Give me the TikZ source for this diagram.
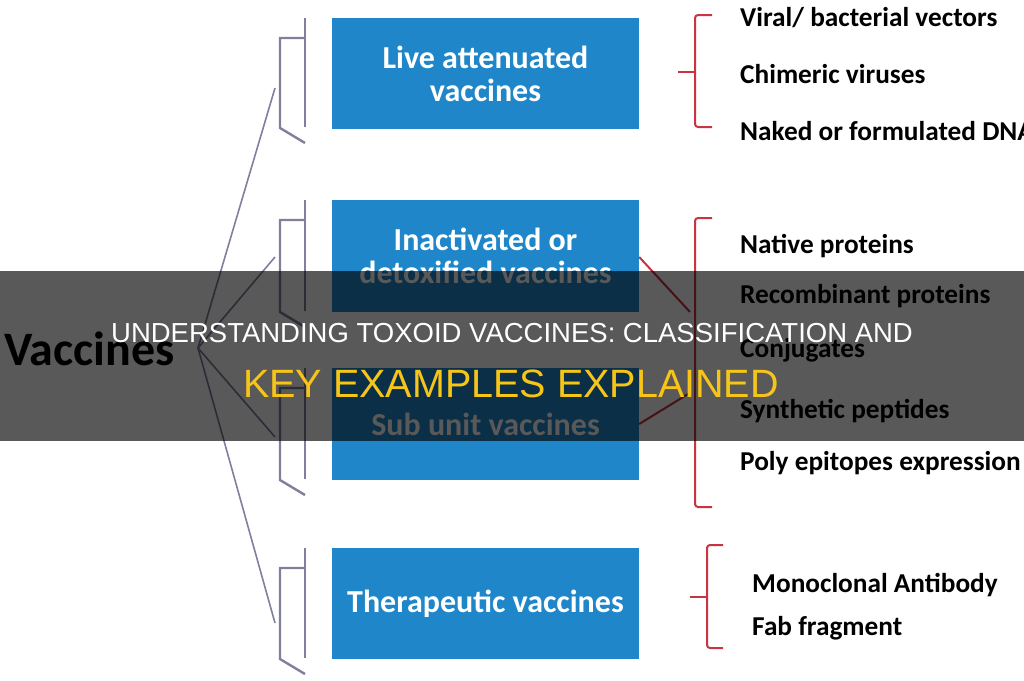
\documentclass[tikz,border=0pt]{standalone}
\usepackage{fontspec}
\setmainfont{Carlito}
\newfontfamily\titlefont{Liberation Sans}
\definecolor{boxblue}{RGB}{31,135,201}
\definecolor{brgrey}{RGB}{128,128,158}
\definecolor{brred}{RGB}{200,52,64}
\definecolor{titleyellow}{RGB}{247,196,24}
\tikzset{
  vbox/.style={fill=boxblue, draw=none, minimum width=307pt, inner sep=0pt, text=white,
    font=\fontsize{32}{33}\selectfont\bfseries, align=center},
  greyline/.style={draw=brgrey, line width=2.4pt},
  hubline/.style={draw=brgrey, line width=1.6pt},
  redline/.style={draw=brred, line width=2pt},
  item/.style={anchor=base west, inner sep=0pt, font=\fontsize{27.3}{30}\selectfont\bfseries, text=black},
}
\begin{document}
\begin{tikzpicture}[x=1pt,y=-1pt]
\useasboundingbox (0,0) rectangle (1024,680);
\clip (0,0) rectangle (1024,680);
\fill[white] (0,0) rectangle (1024,680);

% boxes
\node[vbox, minimum height=111pt] (b1) at (485.5,73.5) {Live attenuated\\vaccines};
\node[vbox, minimum height=112pt] (b2) at (485.5,256) {Inactivated or\\detoxified vaccines};
\node[vbox, minimum height=112pt] (b3) at (485.5,424) {Sub unit vaccines};
\node[vbox, minimum height=111pt] (b4) at (485.5,603.5) {Therapeutic vaccines};

% root label
\node[anchor=base west, inner sep=0pt, font=\fontsize{48}{52}\selectfont\bfseries] (root) at (4,365) {Vaccines};

% grey brackets
\foreach \t/\b in {18/128, 200/312, 368/480, 548/659}{
  \draw[greyline] (305,\t) -- (305,\b-1);
  \draw[greyline, line join=miter] (305,\t+20) -- (280,\t+20) -- (280,\b) -- (305,\b+15);
}

% hub lines
\coordinate (hub) at (198,348);
\coordinate (e1) at (275,88);
\coordinate (e2) at (275,257);
\coordinate (e3) at (275,437);
\coordinate (e4) at (275,623);
\foreach \e in {e1,e2,e3,e4}{ \draw[hubline] (hub) -- (\e); }

% red braces
\draw[redline, rounded corners=3pt] (712,15) -- (695,15) -- (695,127) -- (712,127);
\draw[redline] (678,72) -- (695,72);
\draw[redline, rounded corners=3pt] (712,218) -- (695,218) -- (695,507) -- (712,507);
\draw[redline, rounded corners=3pt] (723,545) -- (707,545) -- (707,648) -- (723,648);
\draw[redline] (690,597) -- (707,597);

\coordinate (m1) at (690,312);
\coordinate (m2) at (688,394);
\draw[redline] (b2.east) ++(0,1) -- (m1);
\draw[redline] (b3.east) -- (m2);

% items
\node[item] (t1) at (740,27) {Viral/ bacterial vectors};
\node[item] (t2) at (740,83) {Chimeric viruses};
\node[item] (t3) at (740,140) {Naked or formulated DNA};
\node[item] (t4) at (740,253) {Native proteins};
\node[item] (t5) at (740,303) {Recombinant proteins};
\node[item] (t6) at (740,357) {Conjugates};
\node[item] (t7) at (740,418) {Synthetic peptides};
\node[item] (t8) at (740,470) {Poly epitopes expression};
\node[item] (t9) at (752,592) {Monoclonal Antibody};
\node[item] (t10) at (752,635) {Fab fragment};

% overlay band
\fill[black, opacity=0.65] (0,271) rectangle (1024,441);
\node[anchor=base, inner sep=0pt, text=white, font=\titlefont\fontsize{27.5}{30}\selectfont] (title1) at (512,342) {UNDERSTANDING TOXOID VACCINES: CLASSIFICATION AND};
\node[anchor=base, inner sep=0pt, text=titleyellow, font=\titlefont\fontsize{39.5}{42}\selectfont] (title2) at (511,397) {KEY EXAMPLES EXPLAINED};
\end{tikzpicture}
\end{document}
